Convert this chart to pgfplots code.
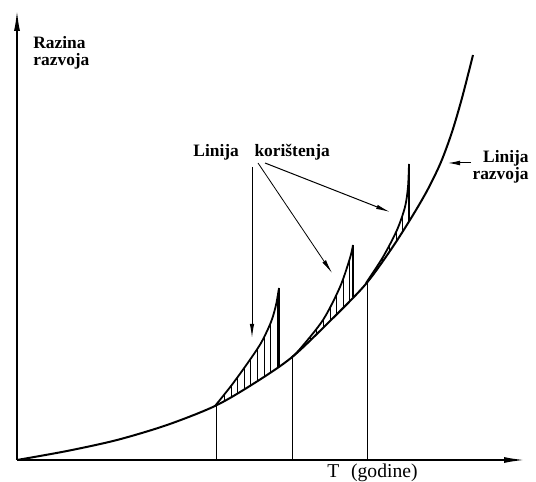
\documentclass[border=0pt]{standalone}
\usepackage{fontspec}
\setmainfont{Liberation Serif}
\usepackage{pgfplots}
\pgfplotsset{compat=1.18}
\usetikzlibrary{arrows.meta,patterns.meta}

\begin{document}
\begin{tikzpicture}
\begin{axis}[x=0.5pt, y=0.5pt, xmin=-17, xmax=519, ymin=-22, ymax=460,
  hide axis, clip=false]
  % coordinate axes
  \addplot[line width=1pt, -{Latex[length=11pt,width=3pt]}] coordinates {(0,0) (0,451)};
  \addplot[line width=1pt, -{Latex[length=11pt,width=3pt]}] coordinates {(0,0) (509,0)};

  % hatching (usage line forward, development line back)
  \addplot[draw=none, pattern={Lines[angle=90,distance=3.3pt,line width=0.4pt]}] coordinates {
    (198,54) (214,74) (230,96) (244,117) (254,138) (259,155) (262,172)
    (262,94) (250,85) (236,76) (215,64) (198,54)
  };
  \addplot[draw=none, pattern={Lines[angle=90,distance=3.3pt,line width=0.4pt]}] coordinates {
    (274,102) (283,111) (306,140) (323,173) (333,202) (336,215)
    (336,163) (323,149) (310,136) (292,119) (274,102)
  };
  \addplot[draw=none, pattern={Lines[angle=90,distance=3.3pt,line width=0.4pt]}] coordinates {
    (349,177) (366,203) (380,230) (388,253) (391,273) (392,296)
    (392,239) (380,220) (365,198) (349,177)
  };

  % linija razvoja
  \addplot[smooth, line width=1pt] coordinates {
    (0,0) (50,9) (100,20) (150,35) (198,54) (236,76) (274,102) (310,136)
    (348,175) (375,212) (396,245) (411,271) (424,298) (435,328) (445,362) (456,405)
  };

  % linije koristenja
  \addplot[smooth, line width=0.9pt] coordinates {
    (198,54) (214,74) (230,96) (244,117) (254,138) (259,155) (262,172)
  };
  \addplot[line width=1pt] coordinates {(262,172) (262,94)};
  \addplot[smooth, line width=0.9pt] coordinates {
    (274,102) (283,111) (306,140) (323,173) (333,202) (336,215)
  };
  \addplot[line width=1pt] coordinates {(336,215) (336,163)};
  \addplot[smooth, line width=0.9pt] coordinates {
    (349,177) (366,203) (380,230) (388,253) (391,273) (392,296)
  };
  \addplot[line width=1pt] coordinates {(392,296) (392,239)};

  % guide lines to the time axis
  \addplot[line width=0.5pt] coordinates {(199,0) (199,55)};
  \addplot[line width=0.5pt] coordinates {(275,0) (275,103)};
  \addplot[line width=0.5pt] coordinates {(350,0) (350,178)};

  % pointers
  \draw[line width=0.5pt, -{Latex[length=7pt,width=2.2pt]}] (axis cs:235,293) -- (axis cs:235,122);
  \draw[line width=0.4pt, -{Latex[length=7pt,width=2.2pt]}] (axis cs:241,297) -- (axis cs:315,187);
  \draw[line width=0.5pt, -{Latex[length=7pt,width=2.2pt]}] (axis cs:248,297) -- (axis cs:373,248);
  \draw[line width=0.5pt, -{Latex[length=6pt,width=2.4pt]}] (axis cs:454,297) -- (axis cs:431,297);

  % labels
  \begin{scope}[every node/.style={inner sep=0pt, font=\fontsize{8.7}{10}\selectfont\bfseries}]
    \node[anchor=base west] at (axis cs:16,411) {Razina};
    \node[anchor=base west] at (axis cs:16,394) {razvoja};
    \node[anchor=base west] at (axis cs:176,303) {Linija\hspace{0.9em}korištenja};
    \node[anchor=base east] at (axis cs:512,297) {Linija};
    \node[anchor=base east] at (axis cs:512,280) {razvoja};
  \end{scope}
  \node[anchor=base west, inner sep=0pt, font=\fontsize{9.8}{11}\selectfont] at (axis cs:310,-18) {T\hspace{0.6em}(godine)};
\end{axis}
\pgfresetboundingbox
\path (current axis.south west) rectangle (current axis.north east);
\end{tikzpicture}
\end{document}
